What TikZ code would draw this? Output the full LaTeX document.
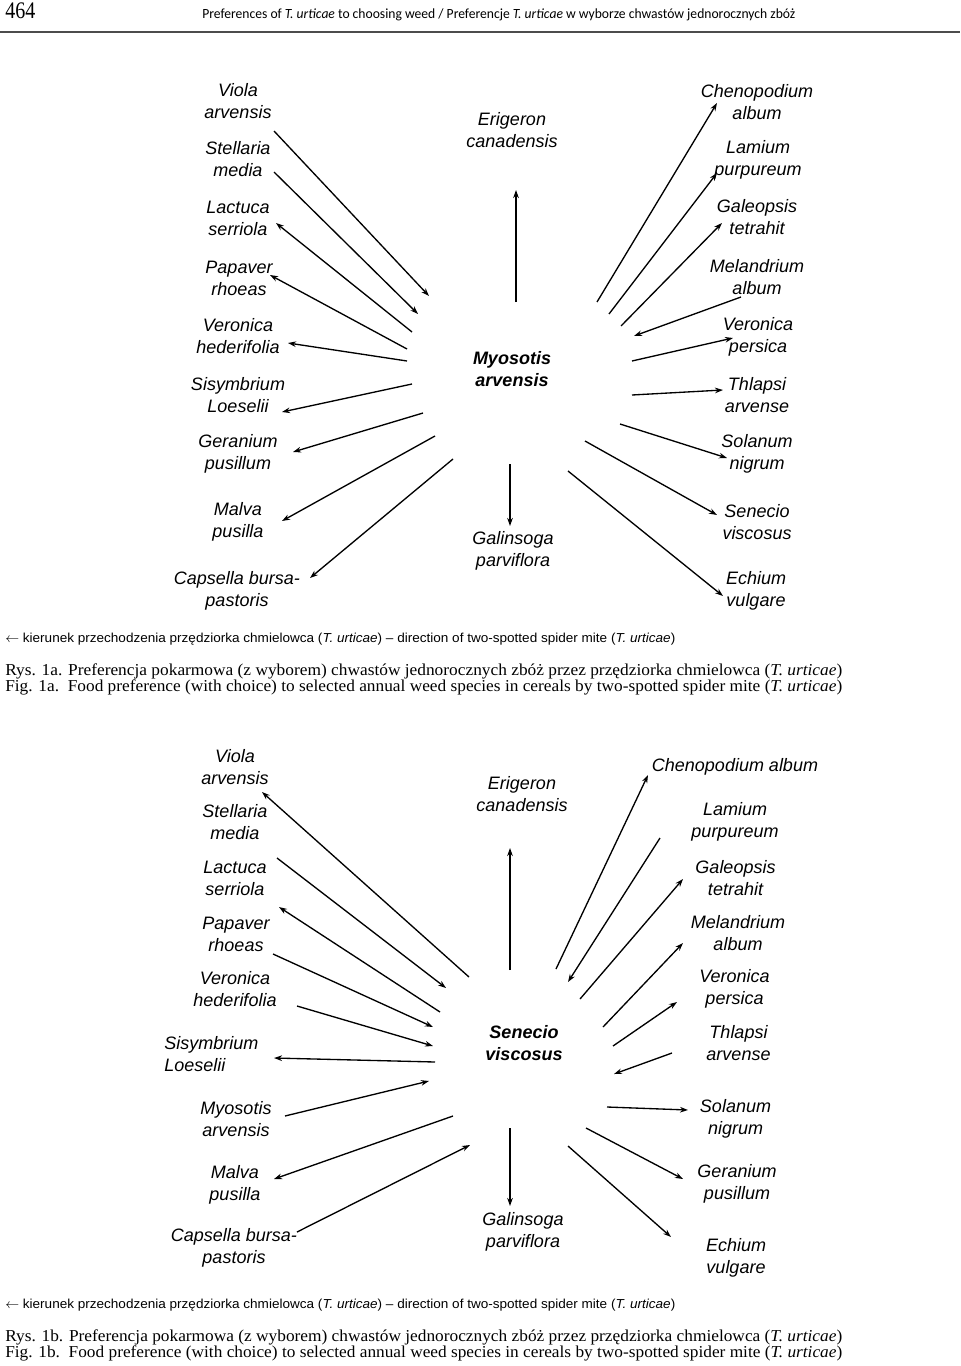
\documentclass[tikz,border=0pt]{standalone}
\usepackage{fontspec}
\setmainfont{Liberation Serif}
\newfontfamily\arialf{Liberation Sans}
\newfontfamily\calib{Carlito}
\usetikzlibrary{arrows.meta}
\begin{document}
\begin{tikzpicture}[x=0.75pt,y=-0.75pt,
  lab/.style={font=\fontsize{13.5}{16.5}\selectfont\arialf\itshape, align=center, inner sep=0pt},
  labb/.style={lab, font=\fontsize{13.5}{16.5}\selectfont\arialf\bfseries\itshape},
  arr/.style={line width=1pt, -{Stealth[length=6pt,width=4.2pt]}},
  capline/.style={anchor=base west, inner sep=0pt}]
\useasboundingbox (0,0) rectangle (960,1366);
\fill[white] (0,0) rectangle (960,1366);

% header
\node[capline, font=\fontsize{17.8}{20}\selectfont] (pg) at (5,19) {\resizebox{22.5pt}{\height}{464}};
\node[capline, font=\calib\fontsize{10.5}{12}\selectfont] (hd) at (202,19) {\resizebox{444.75pt}{\height}{Preferences of \textit{T. urticae} to choosing weed / Preferencje \textit{T. urticae} w wyborze chwastów jednorocznych zbóż}};
\draw[line width=1.5pt, black!70] (0,32) -- (960,32);

% ===== Figure 1a labels =====
\node[lab] (l1) at (238,101.5) {Viola\\arvensis};
\node[lab] (l2) at (238,159.5) {Stellaria\\media};
\node[lab] (l3) at (238,218) {Lactuca\\serriola};
\node[lab] (l4) at (239,278.5) {Papaver\\rhoeas};
\node[lab] (l5) at (238,336.5) {Veronica\\hederifolia};
\node[lab] (l6) at (238,395) {Sisymbrium\\Loeselii};
\node[lab] (l7) at (238,453.5) {Geranium\\pusillum};
\node[lab] (l8) at (238,522) {Malva\\pusilla};
\node[lab] (l9) at (237,590.5) {Capsella bursa-\\pastoris};
\node[lab] (c1) at (512,130.5) {Erigeron\\canadensis};
\node[labb] (c2) at (512,369) {Myosotis\\arvensis};
\node[lab] (c3) at (513,551) {Galinsoga\\parviflora};
\node[lab] (r1) at (757,102) {Chenopodium\\album};
\node[lab] (r2) at (758,160) {Lamium\\purpureum};
\node[lab] (r3) at (757,217.5) {Galeopsis\\tetrahit};
\node[lab] (r4) at (757,277.5) {Melandrium\\album};
\node[lab] (r5) at (758,336.5) {Veronica\\persica};
\node[lab] (r6) at (757,395) {Thlapsi\\arvense};
\node[lab] (r7) at (757,453.5) {Solanum\\nigrum};
\node[lab] (r8) at (757,522) {Senecio\\viscosus};
\node[lab] (r9) at (756,590.5) {Echium\\vulgare};

% ===== Figure 1a arrows =====
\foreach \n/\sx/\sy/\ex/\ey in {
  a1/274/131/429/296, a2/274/172/418/314, a3/412/332/276/223,
  a4/407/349/270/275, a5/407/361/288/343, a6/412/384/282/412,
  a7/423/413/293/452, a8/435/436/282/521, a9/453/459/310/578,
  a10/516/302/516/190, a11/510/464/510/526,
  a12/597/302/717/103, a13/609/314/717/173, a14/621/326/722/223,
  a15/741/297/634/336, a16/632/361/733/338, a17/632/395/723/390,
  a18/620/424/727/458, a19/585/441/717/515, a20/568/471/723/596}{
  \coordinate (\n s) at (\sx,\sy);
  \coordinate (\n e) at (\ex,\ey);
  \draw[arr] (\n s) -- (\n e);
}

% captions 1a
\node[capline, font=\fontsize{9.75}{11}\selectfont\arialf] (k1) at (5,642) {\resizebox{502.5pt}{\height}{$\leftarrow$ kierunek przechodzenia przędziorka chmielowca (\textit{T. urticae}) – direction of two-spotted spider mite (\textit{T. urticae})}};
\node[capline, font=\fontsize{12.5}{14}\selectfont] (rys1) at (5,675) {\resizebox{627.75pt}{\height}{Rys. 1a. Preferencja pokarmowa (z wyborem) chwastów jednorocznych zbóż przez przędziorka chmielowca (\textit{T. urticae})}};
\node[capline, font=\fontsize{12.5}{14}\selectfont] (fig1) at (5,691) {\resizebox{627.75pt}{\height}{Fig. 1a.\ \ Food preference (with choice) to selected annual weed species in cereals by two-spotted spider mite (\textit{T. urticae})}};

% ===== Figure 1b labels =====
\node[lab] (m1) at (235,767) {Viola\\arvensis};
\node[lab] (m2) at (235,822) {Stellaria\\media};
\node[lab] (m3) at (235,878) {Lactuca\\serriola};
\node[lab] (m4) at (236,934) {Papaver\\rhoeas};
\node[lab] (m5) at (235,989) {Veronica\\hederifolia};
\node[lab, align=left, anchor=west] (m6) at (164,1054) {Sisymbrium\\Loeselii};
\node[lab] (m7) at (236,1119) {Myosotis\\arvensis};
\node[lab] (m8) at (235,1184.5) {Malva\\pusilla};
\node[lab] (m9) at (234,1248) {Capsella bursa-\\pastoris};
\node[lab] (d1) at (522,794) {Erigeron\\canadensis};
\node[labb] (d2) at (524,1043.5) {Senecio\\viscosus};
\node[lab] (d3) at (523,1231.5) {Galinsoga\\parviflora};
\node[lab] (s1) at (735,767) {Chenopodium album};
\node[lab] (s2) at (735,822) {Lamium\\purpureum};
\node[lab] (s3) at (735.5,878) {Galeopsis\\tetrahit};
\node[lab] (s4) at (738,933.5) {Melandrium\\album};
\node[lab] (s5) at (734.5,988.5) {Veronica\\persica};
\node[lab] (s6) at (738.5,1043.5) {Thlapsi\\arvense};
\node[lab] (s7) at (735.5,1119) {Solanum\\nigrum};
\node[lab] (s8) at (737,1183.5) {Geranium\\pusillum};
\node[lab] (s9) at (736,1258) {Echium\\vulgare};

% ===== Figure 1b arrows =====
\foreach \n/\sx/\sy/\ex/\ey in {
  b1/469/977/262/792, b2/277/858/446/988, b3/440/1012/279/907,
  b4/273/954/433/1027, b5/297/1006/433/1046, b6/435/1062/274/1058,
  b7/285/1116/429/1081, b8/453/1116/274/1179, b9/297/1232/470/1145,
  b10/510/970/510/848, b11/510/1128/510/1206,
  b12/556/969/648/775, b13/660/838/568/982, b14/580/999/683/879,
  b15/603/1027/683/943, b16/613/1046/677/1002, b17/672/1053/614/1074,
  b18/607/1107/688/1110, b19/586/1128/683/1179, b20/568/1146/671/1237}{
  \coordinate (\n s) at (\sx,\sy);
  \coordinate (\n e) at (\ex,\ey);
  \draw[arr] (\n s) -- (\n e);
}

% captions 1b
\node[capline, font=\fontsize{9.75}{11}\selectfont\arialf] (k2) at (5,1308) {\resizebox{502.5pt}{\height}{$\leftarrow$ kierunek przechodzenia przędziorka chmielowca (\textit{T. urticae}) – direction of two-spotted spider mite (\textit{T. urticae})}};
\node[capline, font=\fontsize{12.5}{14}\selectfont] (rys2) at (5,1341) {\resizebox{627.75pt}{\height}{Rys. 1b. Preferencja pokarmowa (z wyborem) chwastów jednorocznych zbóż przez przędziorka chmielowca (\textit{T. urticae})}};
\node[capline, font=\fontsize{12.5}{14}\selectfont] (fig2) at (5,1357) {\resizebox{627.75pt}{\height}{Fig. 1b.\ \ Food preference (with choice) to selected annual weed species in cereals by two-spotted spider mite (\textit{T. urticae})}};
\end{tikzpicture}
\end{document}
